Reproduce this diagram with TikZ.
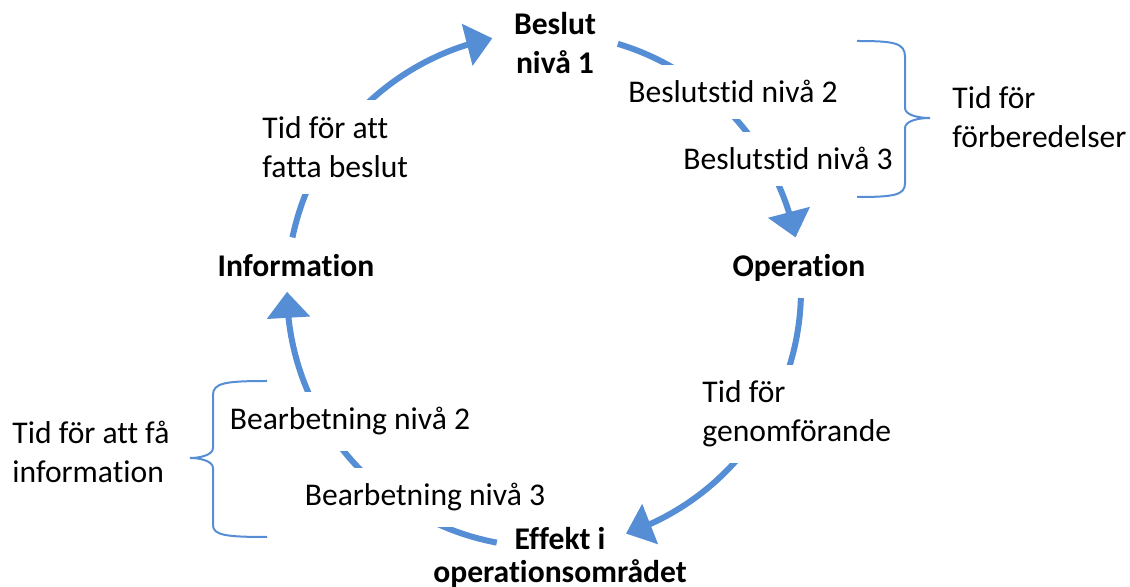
\documentclass[tikz,border=0pt]{standalone}
\usepackage{fontspec}
\setmainfont{Carlito}[Ligatures={NoCommon,NoContextual}]
\usetikzlibrary{arrows.meta,bending}
\definecolor{cycleblue}{HTML}{558ED5}

\begin{document}
\begin{tikzpicture}[x=0.5pt,y=0.5pt,
  font=\fontsize{15.8}{19.5}\selectfont,
  flow/.style={cycleblue,line width=3pt,-{Triangle[length=13pt,width=21pt]}},
  brace/.style={cycleblue,line width=1pt},
  phase/.style={font=\fontsize{15.8}{19.5}\selectfont\bfseries,align=center},
  lbl/.style={fill=white,align=left,inner xsep=3pt,inner ysep=8pt}]

\useasboundingbox (0,0) rectangle (1130,-587);
\coordinate (c) at (544,-290);

% the cycle
\path (c) ++(168.2:128.5pt) coordinate (s1)
      (c) ++(73.3:128.5pt)  coordinate (s2)
      (c) ++(-1.8:128.5pt)  coordinate (s3)
      (c) ++(259.4:128.5pt) coordinate (s4);
\draw[flow] (s1) arc[start angle=168.2,end angle=101.6,radius=128.5pt];
\draw[flow] (s2) arc[start angle=73.3,end angle=11.8,radius=128.5pt];
\draw[flow] (s3) arc[start angle=-1.8,end angle=-71.4,radius=128.5pt];
\draw[flow] (s4) arc[start angle=259.4,end angle=180.4,radius=128.5pt];

\node[phase]             (beslut) at (555,-43)  {Beslut\\nivå 1};
\node[phase,anchor=base] (oper)   at (799,-277) {Operation};
\node[phase]             (effekt) at (560,-557) {Effekt i\\[-3pt]operationsområdet};
\node[phase,anchor=base] (info)   at (296,-277) {Information};

\node[lbl,anchor=base] (tid2)   at (733,-103) {Beslutstid nivå 2};
\node[lbl,anchor=base] (tid3)   at (788,-170) {Beslutstid nivå 3};
\node[lbl,anchor=west] (forb)   at (946,-117) {Tid för\\förberedelser};
\node[lbl,anchor=west] (genom)  at (696,-414) {Tid för\\genomförande};
\node[lbl,anchor=west] (fatta)  at (256,-147) {Tid för att\\fatta beslut};
\node[lbl,anchor=west] (fatid)  at (6,-452)   {Tid för att få\\information};
\node[lbl,anchor=base] (bearb2) at (350,-430) {Bearbetning nivå 2};
\node[lbl,anchor=base] (bearb3) at (425,-506) {Bearbetning nivå 3};

% braces
\draw[brace] (857,-41) .. controls (895,-41) and (905,-43) .. (905,-57) -- (905,-108)
  .. controls (905,-115) and (918,-118) .. (930,-118)
  .. controls (918,-118) and (905,-121) .. (905,-128) -- (905,-183)
  .. controls (905,-195) and (895,-197) .. (857,-197);
\draw[brace] (267,-381) .. controls (225,-381) and (213,-383) .. (213,-395) -- (213,-448)
  .. controls (213,-455) and (200,-458) .. (190,-458)
  .. controls (200,-458) and (213,-461) .. (213,-468) -- (213,-525)
  .. controls (213,-535) and (225,-537) .. (267,-537);

\end{tikzpicture}
\end{document}
